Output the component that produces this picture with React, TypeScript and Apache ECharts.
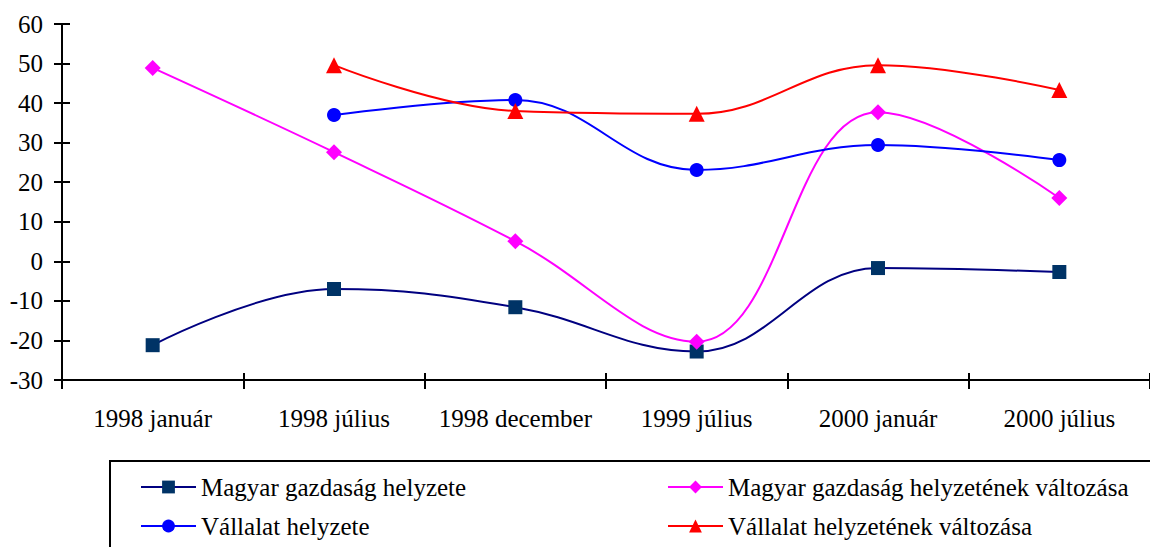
import React, { useEffect, useRef } from "react";
import * as echarts from "echarts";

const categories = ["1998 január", "1998 július", "1998 december", "1999 július", "2000 január", "2000 július"];
const magyarHelyzet = [-21.2, -7.0, -11.6, -22.8, -1.7, -2.7];
const magyarValtozas = [48.9, 27.6, 5.1, -20.3, 37.7, 16.0];
const vallalatHelyzet = [null, 37.0, 40.8, 23.1, 29.4, 25.6];
const vallalatValtozas = [null, 49.6, 38.0, 37.3, 49.6, 43.3];
const yTicks = { min: -30, max: 60, interval: 10 };

const names = [
  "Magyar gazdaság helyzete",
  "Magyar gazdaság helyzetének változása",
  "Vállalat helyzete",
  "Vállalat helyzetének változása",
];

const FONT = "Liberation Serif";

export default function App() {
  const ref = useRef<HTMLDivElement>(null);
  useEffect(() => {
    if (!ref.current) return;
    const chart = echarts.init(ref.current, null, { renderer: "svg" });
    const axisLine = { show: true, onZero: false, lineStyle: { color: "#000", width: 2 } };
    const mk = (name: string, data: any[], symbol: string, size: any, lineColor: string, fill: string) => ({
      name,
      type: "line",
      data,
      smooth: 0.4,
      symbol,
      symbolSize: size,
      showSymbol: true,
      connectNulls: false,
      lineStyle: { color: lineColor, width: 2 },
      itemStyle: { color: fill, borderWidth: 0 },
      emphasis: { disabled: true },
    });
    const legendText = { color: "#000", fontSize: 25, fontFamily: FONT, lineHeight: 26 };
    chart.setOption({
      animation: false,
      backgroundColor: "#fff",
      textStyle: { fontFamily: FONT },
      grid: { left: 62, top: 24, bottom: 167, right: -4, containLabel: false },
      xAxis: [
        {
          type: "category",
          data: categories,
          boundaryGap: true,
          axisLine,
          axisTick: { show: true, length: 9, lineStyle: { color: "#000", width: 2 } },
          axisLabel: { color: "#000", fontSize: 25, fontFamily: FONT, margin: 26, interval: 0 },
          splitLine: { show: false },
        },
        {
          type: "category",
          data: categories,
          boundaryGap: true,
          position: "bottom",
          axisLine: { show: false, onZero: false },
          axisTick: { show: true, inside: true, length: 7, lineStyle: { color: "#000", width: 2 } },
          axisLabel: { show: false },
          splitLine: { show: false },
        },
      ],
      yAxis: [
        {
          type: "value",
          ...yTicks,
          axisLine,
          axisTick: { show: true, length: 8, lineStyle: { color: "#000", width: 2 } },
          axisLabel: { color: "#000", fontSize: 25, fontFamily: FONT, margin: 19 },
          splitLine: { show: false },
        },
        {
          type: "value",
          ...yTicks,
          position: "left",
          axisLine: { show: false, onZero: false },
          axisTick: { show: true, inside: true, length: 8, lineStyle: { color: "#000", width: 2 } },
          axisLabel: { show: false },
          splitLine: { show: false },
        },
      ],
      legend: [
        {
          data: [names[0], names[2]],
          orient: "vertical",
          left: 140,
          top: 474,
          padding: 0,
          itemWidth: 55,
          itemHeight: 16,
          itemGap: 13,
          textStyle: legendText,
          selectedMode: false,
        },
        {
          data: [names[1], names[3]],
          orient: "vertical",
          left: 667,
          top: 474,
          padding: 0,
          itemWidth: 55,
          itemHeight: 16,
          itemGap: 13,
          textStyle: legendText,
          selectedMode: false,
        },
      ],
      graphic: [
        {
          type: "rect",
          shape: { x: 110, y: 461, width: 1100, height: 200 },
          style: { fill: "none", stroke: "#000", lineWidth: 2 },
          silent: true,
        },
      ],
      series: [
        mk(names[0], magyarHelyzet, "rect", 14, "#000080", "#003366"),
        mk(names[1], magyarValtozas, "diamond", 16, "#ff00ff", "#ff00ff"),
        mk(names[2], vallalatHelyzet, "circle", 14, "#0000ff", "#0000ff"),
        mk(names[3], vallalatValtozas, "triangle", 16, "#ff0000", "#ff0000"),
      ],
    });
    return () => chart.dispose();
  }, []);
  return (
    <div
      ref={ref}
      style={{ position: "fixed", left: 0, top: 0, width: 1150, height: 547, background: "#fff" }}
    />
  );
}
